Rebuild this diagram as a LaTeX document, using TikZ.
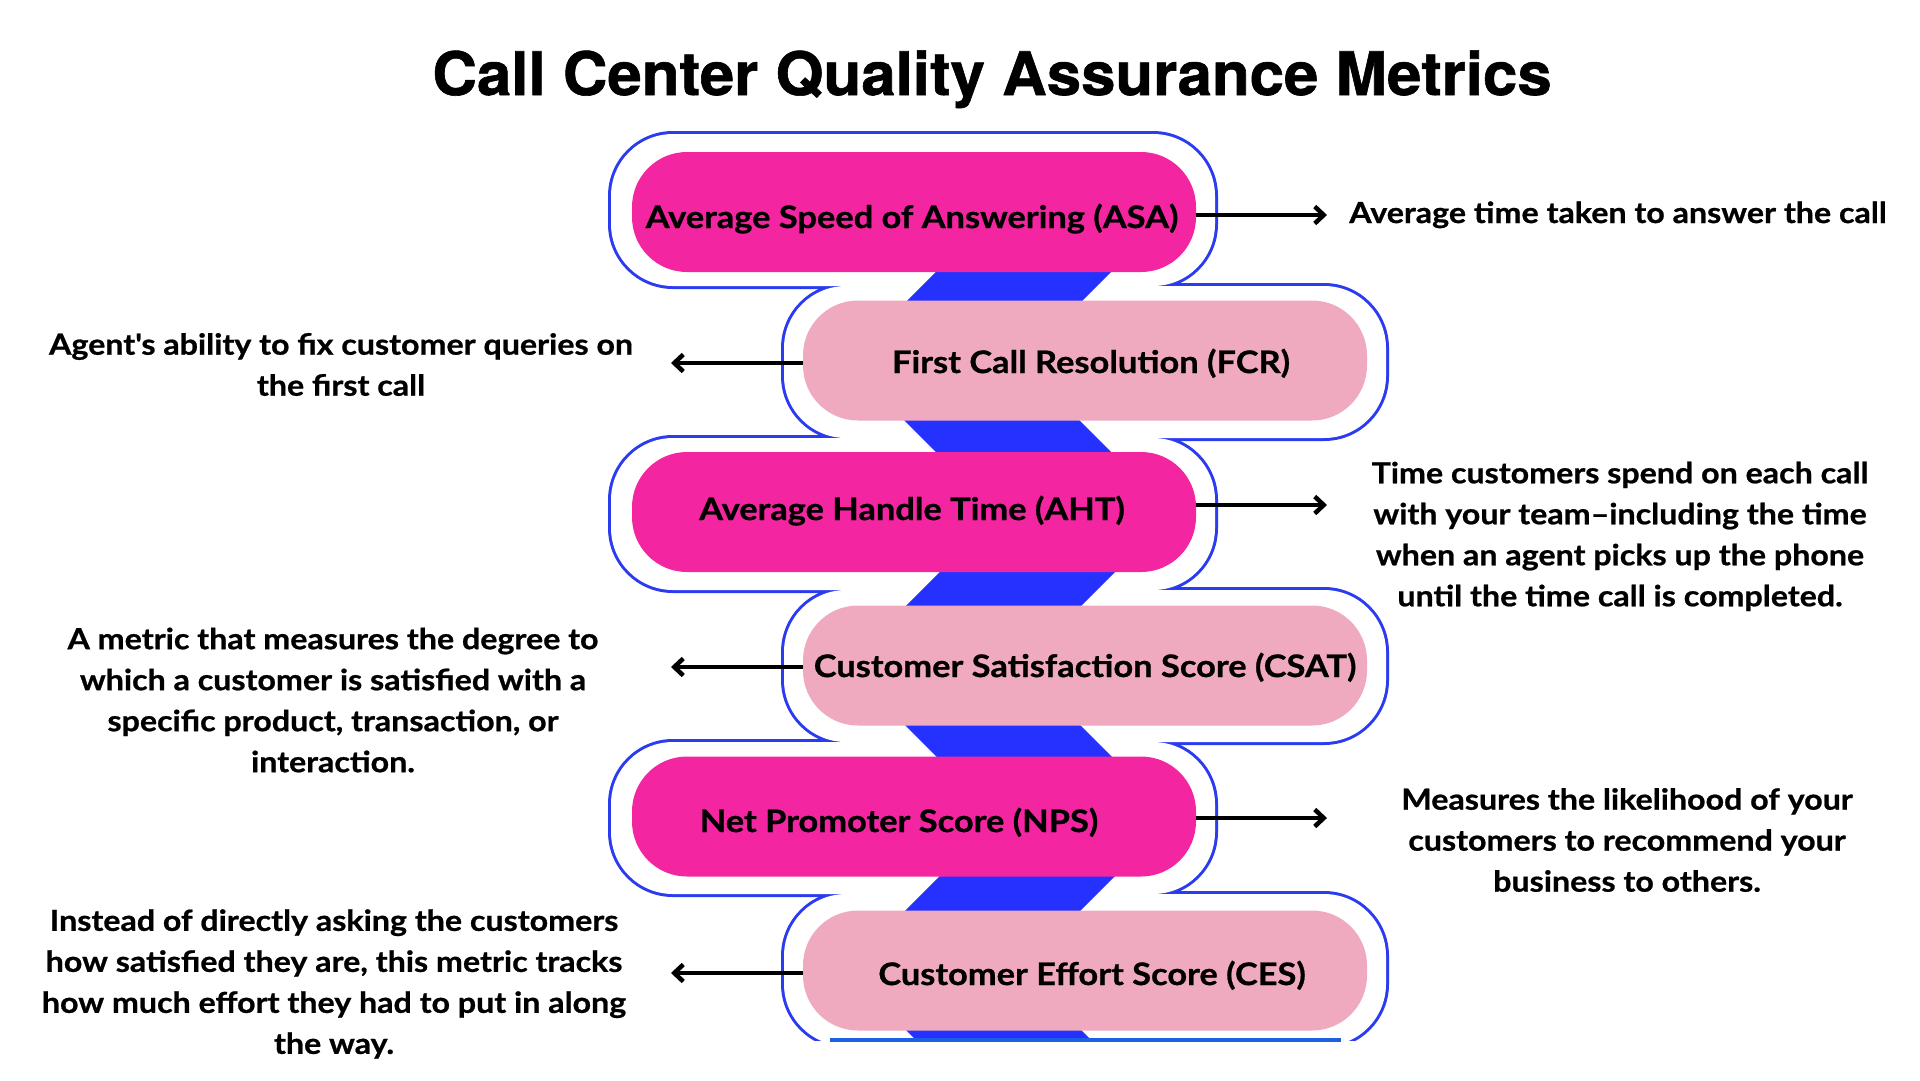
\documentclass[tikz,border=0pt]{standalone}
\usepackage{fontspec}
\setmainfont{Lato}[FakeStretch=1.11, BoldFeatures={FakeBold=0.8}]
\newfontfamily\titlefont[FakeStretch=1.03, BoldFeatures={FakeBold=1}]{TeX Gyre Heros}
\usetikzlibrary{arrows.meta}
\definecolor{hotpink}{HTML}{F425A0}
\definecolor{softpink}{HTML}{F0AABF}
\definecolor{bandblue}{HTML}{2532FF}
\definecolor{rimblue}{HTML}{2B3BF0}
\definecolor{baseblue}{HTML}{1E5FE6}
\begin{document}
\begin{tikzpicture}[x=1pt,y=-1pt,
  rim/.style={rounded corners=62pt},
  pill/.style={minimum width=564pt, minimum height=120pt, rounded corners=55pt, inner sep=0pt},
  pillL/.style={pill, fill=hotpink},
  pillR/.style={pill, fill=softpink},
  plabel/.style={font=\fontsize{31}{37}\selectfont\bfseries, anchor=base},
  desc/.style={font=\fontsize{29}{41}\selectfont\bfseries, align=center},
  arr/.style={line width=4.5pt, -{Straight Barb[length=9pt,width=17pt]}}
]
\fill[white] (0,0) rectangle (1920,1080);
\useasboundingbox (0,0) rectangle (1920,1080);

\begin{scope}
  \clip (0,0) rectangle (1920,1040);
  \foreach \k/\xa/\xb in {0/611/1215,1/784/1386,2/611/1215,3/784/1386,4/611/1215,5/784/1386}
    \draw[rimblue, line width=6pt, rim] (\xa,210+152*\k-76) rectangle (\xb,210+152*\k+76);
  \foreach \k/\xa/\xb in {0/611/1215,1/784/1386,2/611/1215,3/784/1386,4/611/1215,5/784/1386}
    \fill[white, rim] (\xa,210+152*\k-76) rectangle (\xb,210+152*\k+76);
  \draw[bandblue, line width=124pt, line join=miter] (1085.5,210) -- (933.5,362) -- (1085.5,514) -- (933.5,666) -- (1085.5,818) -- (933.5,970) -- (1085.5,1122);
\end{scope}
\draw[baseblue, line width=4pt] (830,1040) -- (1341,1040);

\node[pillL] (asa) at (914,212) {};
\node[pillR] (fcr) at (1085,360.5) {};
\node[pillL] (aht) at (914,512) {};
\node[pillR] (csat) at (1085,665.5) {};
\node[pillL] (nps) at (914,816.5) {};
\node[pillR] (ces) at (1085,970.5) {};

\node[plabel] (asaT) at (912,228) {Average Speed of Answering (ASA)};
\node[plabel] (fcrT) at (1091,373) {First Call Resolution (FCR)};
\node[plabel] (ahtT) at (912,520) {Average Handle Time (AHT)};
\node[plabel] (csatT) at (1085,677) {Customer Satisfaction Score (CSAT)};
\node[plabel] (npsT) at (899,832) {Net Promoter Score (NPS)};
\node[plabel] (cesT) at (1092,985) {Customer Effort Score (CES)};

\coordinate (asaE) at (1327,215);
\coordinate (fcrE) at (671,363);
\coordinate (ahtE) at (1327,505);
\coordinate (csatE) at (671,667);
\coordinate (npsE) at (1327,818);
\coordinate (cesE) at (671,973);
\draw[arr] (asaE -| asa.east) -- (asaE);
\draw[arr] (fcrE -| fcr.west) -- (fcrE);
\draw[arr] (ahtE -| aht.east) -- (ahtE);
\draw[arr] (csatE -| csat.west) -- (csatE);
\draw[arr] (npsE -| nps.east) -- (npsE);
\draw[arr] (cesE -| ces.west) -- (cesE);

\node[desc, anchor=base] (asaD) at (1618,223) {Average time taken to answer the call};
\node[desc] (fcrD) at (341,364.5) {Agent{\textquotesingle}s ability to fix customer queries on\\the first call};
\node[desc] (ahtD) at (1620,536.4) {Time customers spend on each call\\with your team–including the time\\when an agent picks up the phone\\until the time call is completed.};
\node[desc] (csatD) at (333,700) {A metric that measures the degree to\\which a customer is satisfied with a\\specific product, transaction, or\\interaction.};
\node[desc] (npsD) at (1627,840) {Measures the likelihood of your\\customers to recommend your\\business to others.};
\node[desc] (cesD) at (334,984) {Instead of directly asking the customers\\how satisfied they are, this metric tracks\\how much effort they had to put in along\\the way.};

\node[font=\titlefont\fontsize{60}{70}\selectfont\bfseries, anchor=base] (title) at (992,95) {Call Center Quality Assurance Metrics};
\end{tikzpicture}
\end{document}
